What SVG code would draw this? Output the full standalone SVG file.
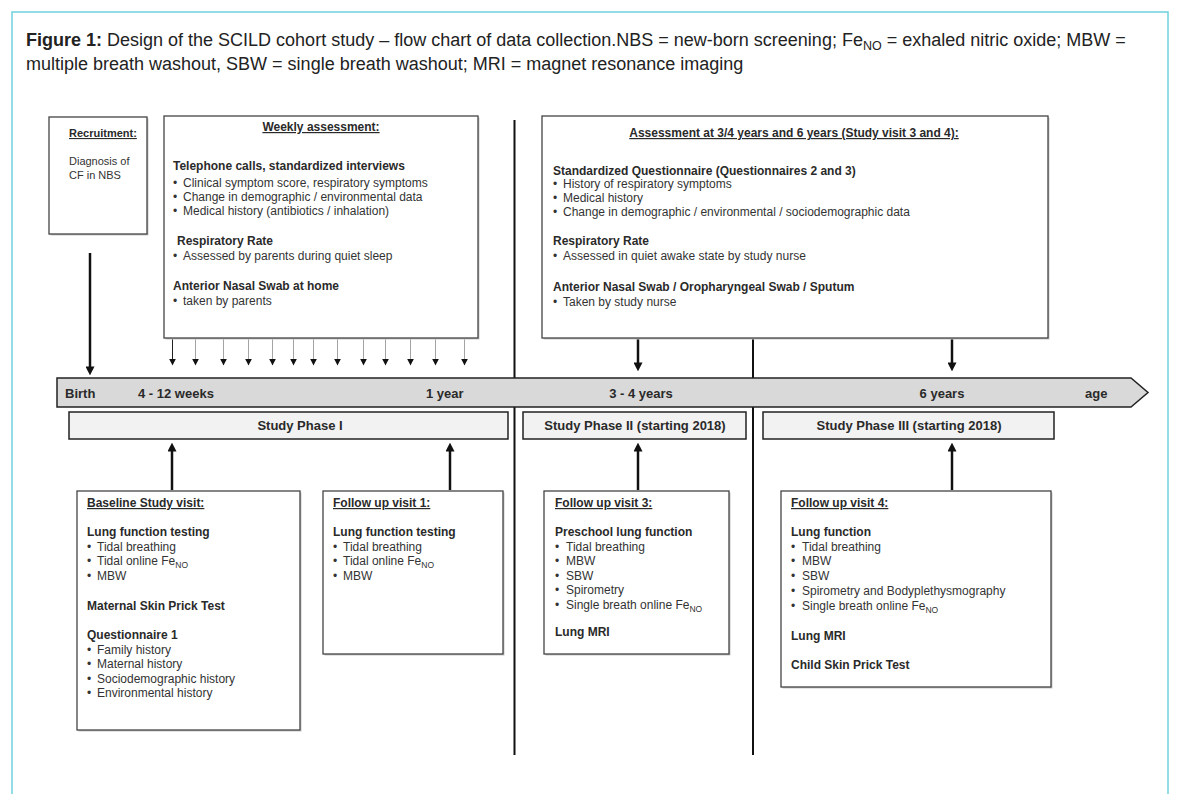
<svg xmlns="http://www.w3.org/2000/svg" width="1180" height="794" viewBox="0 0 1180 794">
<defs>
<marker id="ah" viewBox="0 0 10 10" refX="4" refY="5" markerWidth="9" markerHeight="9" markerUnits="userSpaceOnUse" orient="auto"><path d="M0,0 L10,5 L0,10 z" fill="#111"/></marker>
<marker id="ahs" viewBox="0 0 10 10" refX="2" refY="5" markerWidth="7" markerHeight="7" markerUnits="userSpaceOnUse" orient="auto"><path d="M0,0 L10,5 L0,10 z" fill="#111"/></marker>
</defs>
<style>
text{font-family:"Liberation Sans",Arial,sans-serif;fill:#333;font-size:12px}
.title{font-size:18px;fill:#222}
.b{font-weight:bold;fill:#2a2a2a}
.u{font-weight:bold;text-decoration:underline;fill:#2a2a2a}
.sm{font-size:11px}
.tl{font-weight:bold;font-size:13px;fill:#2a2a2a}
.box{fill:#fff;stroke:#444;stroke-width:1.3}
.shadow{fill:#c8c8c8}
.phase{fill:#f2f2f2;stroke:#222;stroke-width:1.5}
.big{stroke:#111;stroke-width:2.5;fill:none}
.div{stroke:#111;stroke-width:2;fill:none}
.tick{stroke:#9a9a9a;stroke-width:0.9;fill:none}
.sub{font-size:8.5px}
</style>
<rect x="12" y="12" width="1156" height="800" fill="#fff" stroke="#6fd2dd" stroke-width="1.5"/>
<g id="caption">
<text class="title" x="26" y="46"><tspan font-weight="bold">Figure 1:</tspan> Design of the SCILD cohort study – flow chart of data collection.NBS = new-born screening; Fe<tspan font-size="12.5" dy="4">NO</tspan><tspan dy="-4"> = exhaled nitric oxide; MBW =</tspan></text>
<text class="title" x="26" y="70">multiple breath washout, SBW = single breath washout; MRI = magnet resonance imaging</text>
</g>
<g id="connectors">
<line class="div" x1="514.5" y1="120" x2="514.5" y2="755"/>
<line class="div" x1="753" y1="339" x2="753" y2="755"/>
<line class="big" x1="90" y1="253" x2="90" y2="370" marker-end="url(#ah)"/>
<line class="big" x1="638" y1="339" x2="638" y2="366" marker-end="url(#ah)"/>
<line class="big" x1="952" y1="339" x2="952" y2="366" marker-end="url(#ah)"/>
<line class="big" x1="172" y1="490" x2="172" y2="448" marker-end="url(#ah)"/>
<line class="big" x1="450" y1="490" x2="450" y2="448" marker-end="url(#ah)"/>
<line class="big" x1="638" y1="490" x2="638" y2="448" marker-end="url(#ah)"/>
<line class="big" x1="952" y1="490" x2="952" y2="448" marker-end="url(#ah)"/>
<g id="weekly-ticks">
<line x1="172.5" y1="338" x2="172.5" y2="360" stroke="#222" stroke-width="1" marker-end="url(#ahs)"/>
<line class="tick" x1="195.5" y1="338" x2="195.5" y2="360" marker-end="url(#ahs)"/>
<line class="tick" x1="223.5" y1="338" x2="223.5" y2="360" marker-end="url(#ahs)"/>
<line class="tick" x1="248.5" y1="338" x2="248.5" y2="360" marker-end="url(#ahs)"/>
<line class="tick" x1="272.5" y1="338" x2="272.5" y2="360" marker-end="url(#ahs)"/>
<line class="tick" x1="293.5" y1="338" x2="293.5" y2="360" marker-end="url(#ahs)"/>
<line class="tick" x1="313.5" y1="338" x2="313.5" y2="360" marker-end="url(#ahs)"/>
<line class="tick" x1="337.5" y1="338" x2="337.5" y2="360" marker-end="url(#ahs)"/>
<line class="tick" x1="363.5" y1="338" x2="363.5" y2="360" marker-end="url(#ahs)"/>
<line class="tick" x1="385.5" y1="338" x2="385.5" y2="360" marker-end="url(#ahs)"/>
<line class="tick" x1="410.5" y1="338" x2="410.5" y2="360" marker-end="url(#ahs)"/>
<line class="tick" x1="435.5" y1="338" x2="435.5" y2="360" marker-end="url(#ahs)"/>
<line class="tick" x1="464.5" y1="338" x2="464.5" y2="360" marker-end="url(#ahs)"/>
</g>
</g>
<g id="recruitment">
<rect class="shadow" x="50.5" y="118.5" width="98" height="117"/>
<rect class="box" x="49" y="117" width="98" height="117"/>
<text class="u sm" x="69" y="137">Recruitment:</text>
<text class="sm" x="69" y="165">Diagnosis of</text>
<text class="sm" x="69" y="179">CF in NBS</text>
</g>
<g id="weekly">
<rect class="shadow" x="165.5" y="117.5" width="314" height="222"/>
<rect class="box" x="164" y="116" width="314" height="222"/>
<text class="u" x="321" y="131" text-anchor="middle">Weekly assessment:</text>
<text class="b" x="173" y="170">Telephone calls, standardized interviews</text>
<text x="173" y="187">•<tspan x="183">Clinical symptom score, respiratory symptoms</tspan></text>
<text x="173" y="201">•<tspan x="183">Change in demographic / environmental data</tspan></text>
<text x="173" y="215">•<tspan x="183">Medical history (antibiotics / inhalation)</tspan></text>
<text class="b" x="177" y="245">Respiratory Rate</text>
<text x="173" y="260">•<tspan x="183">Assessed by parents during quiet sleep</tspan></text>
<text class="b" x="173" y="290">Anterior Nasal Swab at home</text>
<text x="173" y="305">•<tspan x="183">taken by parents</tspan></text>
</g>
<g id="assessment-3-6">
<rect class="shadow" x="543.5" y="117.5" width="506" height="222"/>
<rect class="box" x="542" y="116" width="506" height="222"/>
<text class="u" x="794" y="137" text-anchor="middle">Assessment at 3/4 years and 6 years (Study visit 3 and 4):</text>
<text class="b" x="553" y="175">Standardized Questionnaire (Questionnaires 2 and 3)</text>
<text x="553" y="188">•<tspan x="563">History of respiratory symptoms</tspan></text>
<text x="553" y="202">•<tspan x="563">Medical history</tspan></text>
<text x="553" y="216">•<tspan x="563">Change in demographic / environmental / sociodemographic data</tspan></text>
<text class="b" x="553" y="245">Respiratory Rate</text>
<text x="553" y="260">•<tspan x="563">Assessed in quiet awake state by study nurse</tspan></text>
<text class="b" x="553" y="291">Anterior Nasal Swab / Oropharyngeal Swab / Sputum</text>
<text x="553" y="306">•<tspan x="563">Taken by study nurse</tspan></text>
</g>
<g id="timeline">
<polygon points="57,378 1131,378 1148,392.5 1131,407 57,407" fill="#d9d9d9" stroke="#222" stroke-width="1.5"/>
<text class="tl" x="65" y="398">Birth</text>
<text class="tl" x="138" y="398">4 - 12 weeks</text>
<text class="tl" x="426" y="398">1 year</text>
<text class="tl" x="641" y="398" text-anchor="middle">3 - 4 years</text>
<text class="tl" x="942" y="398" text-anchor="middle">6 years</text>
<text class="tl" x="1085" y="398">age</text>
</g>
<g id="phase-1">
<rect class="phase" x="69" y="412" width="439" height="27"/>
<text class="tl" x="300" y="430" text-anchor="middle" font-size="12.5">Study Phase I</text>
</g>
<g id="phase-2">
<rect class="phase" x="523" y="412" width="223" height="27"/>
<text class="tl" x="635" y="430" text-anchor="middle">Study Phase II (starting 2018)</text>
</g>
<g id="phase-3">
<rect class="phase" x="763" y="412" width="291" height="27"/>
<text class="tl" x="909" y="430" text-anchor="middle">Study Phase III (starting 2018)</text>
</g>
<g id="baseline-visit">
<rect class="shadow" x="78.5" y="492.5" width="223" height="239"/>
<rect class="box" x="77" y="491" width="223" height="239"/>
<text class="u" x="87" y="507">Baseline Study visit:</text>
<text class="b" x="87" y="536">Lung function testing</text>
<text x="87" y="551">•<tspan x="97">Tidal breathing</tspan></text>
<text x="87" y="565">•<tspan x="97">Tidal online Fe</tspan><tspan class="sub" dy="3">NO</tspan></text>
<text x="87" y="580">•<tspan x="97">MBW</tspan></text>
<text class="b" x="87" y="610">Maternal Skin Prick Test</text>
<text class="b" x="87" y="639">Questionnaire 1</text>
<text x="87" y="654">•<tspan x="97">Family history</tspan></text>
<text x="87" y="668">•<tspan x="97">Maternal history</tspan></text>
<text x="87" y="683">•<tspan x="97">Sociodemographic history</tspan></text>
<text x="87" y="697">•<tspan x="97">Environmental history</tspan></text>
</g>
<g id="follow-up-1">
<rect class="shadow" x="324.5" y="492.5" width="180" height="163"/>
<rect class="box" x="323" y="491" width="180" height="163"/>
<text class="u" x="333" y="507">Follow up visit 1:</text>
<text class="b" x="333" y="536">Lung function testing</text>
<text x="333" y="551">•<tspan x="343">Tidal breathing</tspan></text>
<text x="333" y="565">•<tspan x="343">Tidal online Fe</tspan><tspan class="sub" dy="3">NO</tspan></text>
<text x="333" y="580">•<tspan x="343">MBW</tspan></text>
</g>
<g id="follow-up-3">
<rect class="shadow" x="545.5" y="492.5" width="185" height="163"/>
<rect class="box" x="544" y="491" width="185" height="163"/>
<text class="u" x="555" y="507">Follow up visit 3:</text>
<text class="b" x="555" y="536">Preschool lung function</text>
<text x="555" y="551">•<tspan x="566">Tidal breathing</tspan></text>
<text x="555" y="565">•<tspan x="566">MBW</tspan></text>
<text x="555" y="580">•<tspan x="566">SBW</tspan></text>
<text x="555" y="594">•<tspan x="566">Spirometry</tspan></text>
<text x="555" y="609">•<tspan x="566">Single breath online Fe</tspan><tspan class="sub" dy="3">NO</tspan></text>
<text class="b" x="555" y="636">Lung MRI</text>
</g>
<g id="follow-up-4">
<rect class="shadow" x="782.5" y="492.5" width="270" height="196"/>
<rect class="box" x="781" y="491" width="270" height="196"/>
<text class="u" x="791" y="507">Follow up visit 4:</text>
<text class="b" x="791" y="536">Lung function</text>
<text x="791" y="551">•<tspan x="802">Tidal breathing</tspan></text>
<text x="791" y="565">•<tspan x="802">MBW</tspan></text>
<text x="791" y="580">•<tspan x="802">SBW</tspan></text>
<text x="791" y="595">•<tspan x="802">Spirometry and Bodyplethysmography</tspan></text>
<text x="791" y="610">•<tspan x="802">Single breath online Fe</tspan><tspan class="sub" dy="3">NO</tspan></text>
<text class="b" x="791" y="640">Lung MRI</text>
<text class="b" x="791" y="669">Child Skin Prick Test</text>
</g>
</svg>
